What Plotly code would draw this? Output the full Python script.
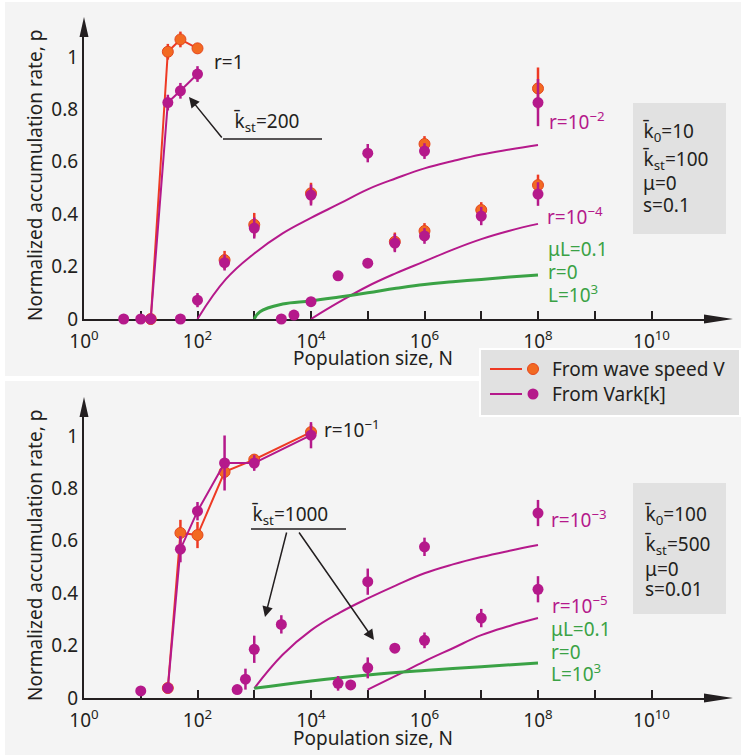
import plotly.graph_objects as go

W, H = 743, 756
FONT = "Noto Sans"
INK = "#231F20"
PURPLE = "#B5198B"
ORANGE = "#F26A22"
ORANGE_EDGE = "#E5471E"
RED = "#EE3A24"
GREEN = "#3AA245"
PANEL = "#F4F4F4"
BOX = "#E1E1E1"

# ---------------- upper panel data (k0=10, kst=100, s=0.1) ----------------
top_r1_zero_N = [5, 10]
top_r1_zero_p = [0, 0]

top_r1_N = [15, 30, 50, 100]
top_r1_wave = [0, 1.02, 1.067, 1.033]
top_r1_wave_err = [0, 0.03, 0.03, 0.02]
top_r1_var = [0, 0.826, 0.871, 0.935]
top_r1_var_err = [0, 0.03, 0.03, 0.03]

top_r2_wave_N = [300, 1000, 1e4, 1e6, 1e8]
top_r2_wave = [0.225, 0.36, 0.48, 0.668, 0.88]
top_r2_wave_err = [0.035, 0.045, 0.04, 0.03, 0.08]
top_r2_var_N = [50, 100, 300, 1000, 1e4, 1e5, 1e6, 1e8]
top_r2_var = [0, 0.072, 0.215, 0.347, 0.473, 0.633, 0.641, 0.826]
top_r2_var_err = [0, 0.027, 0.03, 0.04, 0.04, 0.035, 0.03, 0.09]

top_r4_wave_N = [3e5, 1e6, 1e7, 1e8]
top_r4_wave = [0.295, 0.336, 0.416, 0.511]
top_r4_wave_err = [0.035, 0.03, 0.03, 0.04]
top_r4_var_N = [3000, 5000, 1e4, 3e4, 1e5, 3e5, 1e6, 1e7, 1e8]
top_r4_var = [0, 0.015, 0.066, 0.165, 0.213, 0.29, 0.317, 0.393, 0.477]
top_r4_var_err = [0, 0, 0, 0, 0, 0.035, 0.03, 0.035, 0.045]

# theory curves, read at half-decade steps of N
top_th_r2_N = [1e2, 3.16e2, 1e3, 3.16e3, 1e4, 3.16e4, 1e5, 3.16e5, 1e6, 3.16e6, 1e7, 3.16e7, 1e8]
top_th_r2_p = [0, 0.152, 0.25, 0.327, 0.386, 0.44, 0.495, 0.537, 0.575, 0.603, 0.628, 0.647, 0.664]
top_th_r4_N = [1e4, 3.16e4, 1e5, 3.16e5, 1e6, 3.16e6, 1e7, 3.16e7, 1e8]
top_th_r4_p = [0, 0.065, 0.125, 0.175, 0.22, 0.265, 0.305, 0.337, 0.363]
top_th_r0_N = [1e3, 1.26e3, 3.16e3, 1e4, 3.16e4, 1e5, 3.16e5, 1e6, 3.16e6, 1e7, 3.16e7, 1e8]
top_th_r0_p = [0, 0.028, 0.057, 0.069, 0.084, 0.1, 0.117, 0.132, 0.142, 0.151, 0.16, 0.168]

# ---------------- lower panel data (k0=100, kst=500, s=0.01) ----------------
bot_small_N = [10]
bot_small_p = [0.027]
bot_small_err = [0.01]

bot_r1_N = [30, 50, 100, 300, 1000, 1e4]
bot_r1_wave = [0.038, 0.63, 0.622, 0.863, 0.91, 1.015]
bot_r1_wave_err = [0, 0.05, 0.05, 0.03, 0.02, 0.03]
bot_r1_var = [0.038, 0.568, 0.713, 0.897, 0.897, 1.003]
bot_r1_var_err = [0, 0.05, 0.035, 0.105, 0.03, 0.05]

bot_r3_N = [500, 700, 1000, 3000, 1e5, 1e6, 1e8]
bot_r3_var = [0.032, 0.072, 0.186, 0.281, 0.444, 0.577, 0.706]
bot_r3_var_err = [0, 0.04, 0.052, 0.035, 0.05, 0.035, 0.05]

bot_r5_N = [3e4, 5e4, 1e5, 3e5, 1e6, 1e7, 1e8]
bot_r5_var = [0.056, 0.05, 0.115, 0.19, 0.22, 0.305, 0.415]
bot_r5_var_err = [0.028, 0, 0.04, 0, 0.03, 0.035, 0.05]

bot_th_r3_N = [1e3, 3.16e3, 1e4, 3.16e4, 1e5, 3.16e5, 1e6, 3.16e6, 1e7, 3.16e7, 1e8]
bot_th_r3_p = [0.037, 0.165, 0.258, 0.325, 0.38, 0.43, 0.476, 0.51, 0.538, 0.562, 0.584]
bot_th_r5_N = [1e5, 3.16e5, 1e6, 3.16e6, 1e7, 3.16e7, 1e8]
bot_th_r5_p = [0.032, 0.085, 0.14, 0.19, 0.24, 0.275, 0.305]
bot_th_r0_N = [1e3, 1e4, 1e5, 1e6, 1e7, 1e8]
bot_th_r0_p = [0.037, 0.065, 0.088, 0.105, 0.119, 0.134]

x_major_vals = [10 ** k for k in range(0, 11, 2)]
x_major_text = ["10<sup>%d</sup>" % k for k in range(0, 11, 2)]
x_minor_vals = [10 ** k for k in range(1, 11, 2)]
y_tick_vals = [0, 0.2, 0.4, 0.6, 0.8, 1.0]
y_tick_text = ["0", "0.2", "0.4", "0.6", "0.8", "1"]


def px(x):
    return x / W


def py(y):
    return 1 - y / H


fig = go.Figure()


def theory(N, p, color, width, xa, ya):
    fig.add_trace(go.Scatter(
        x=N, y=p, mode="lines", xaxis=xa, yaxis=ya, showlegend=False,
        line=dict(color=color, width=width, shape="spline", smoothing=1.2),
        hoverinfo="skip"))


def points(N, p, err, kind, xa, ya, connect=False):
    if kind == "wave":
        mk = dict(color=ORANGE, size=11, line=dict(color=ORANGE_EDGE, width=1))
        ln = dict(color=RED, width=2)
        ecol = RED
    else:
        mk = dict(color=PURPLE, size=11, line=dict(width=0))
        ln = dict(color=PURPLE, width=2)
        ecol = PURPLE
    fig.add_trace(go.Scatter(
        x=N, y=p, mode="lines+markers" if connect else "markers",
        xaxis=xa, yaxis=ya, showlegend=False, cliponaxis=False,
        marker=mk, line=ln,
        error_y=dict(type="data", array=err, visible=True, color=ecol,
                     thickness=2.5, width=0)))


# upper panel traces
theory(top_th_r2_N, top_th_r2_p, PURPLE, 2, "x", "y")
theory(top_th_r4_N, top_th_r4_p, PURPLE, 2, "x", "y")
theory(top_th_r0_N, top_th_r0_p, GREEN, 3, "x", "y")
points(top_r1_N, top_r1_wave, top_r1_wave_err, "wave", "x", "y", connect=True)
points(top_r2_wave_N, top_r2_wave, top_r2_wave_err, "wave", "x", "y")
points(top_r4_wave_N, top_r4_wave, top_r4_wave_err, "wave", "x", "y")
points(top_r1_zero_N, top_r1_zero_p, [0, 0], "var", "x", "y")
points(top_r1_N, top_r1_var, top_r1_var_err, "var", "x", "y", connect=True)
points(top_r2_var_N, top_r2_var, top_r2_var_err, "var", "x", "y")
points(top_r4_var_N, top_r4_var, top_r4_var_err, "var", "x", "y")

# lower panel traces
theory(bot_th_r3_N, bot_th_r3_p, PURPLE, 2, "x2", "y2")
theory(bot_th_r5_N, bot_th_r5_p, PURPLE, 2, "x2", "y2")
theory(bot_th_r0_N, bot_th_r0_p, GREEN, 3, "x2", "y2")
points(bot_r1_N, bot_r1_wave, bot_r1_wave_err, "wave", "x2", "y2", connect=True)
points(bot_small_N, bot_small_p, bot_small_err, "var", "x2", "y2")
points(bot_r1_N, bot_r1_var, bot_r1_var_err, "var", "x2", "y2", connect=True)
points(bot_r3_N, bot_r3_var, bot_r3_var_err, "var", "x2", "y2")
points(bot_r5_N, bot_r5_var, bot_r5_var_err, "var", "x2", "y2")

# axes geometry (pixels): x=1 at 84 px, 56.75 px per decade, 262 px per unit of p
X0, DEC, X_END = 84, 56.75, 715
TOP_Y0, BOT_Y0, UNIT = 319, 698, 262
TOP_YEND, BOT_YEND = 30, 410

xcommon = dict(type="log", range=[0, (X_END - X0) / DEC], showgrid=False, zeroline=False,
               automargin=False,
               showline=True, linecolor=INK, linewidth=2, ticks="inside", ticklen=8,
               tickwidth=1.5, tickcolor=INK, tickmode="array", tickvals=x_major_vals,
               ticktext=x_major_text, tickfont=dict(family=FONT, size=19, color=INK),
               ticklabelstandoff=4,
               minor=dict(tickmode="array", tickvals=x_minor_vals, ticks="inside",
                          ticklen=8, tickwidth=1.5, tickcolor=INK, showgrid=False),
               layer="below traces", domain=[px(X0), px(X_END)])
ycommon = dict(showgrid=False, zeroline=False, showline=True, linecolor=INK, linewidth=2,
               automargin=False,
               ticks="", tickmode="array", tickvals=y_tick_vals, ticktext=y_tick_text,
               tickfont=dict(family=FONT, size=19, color=INK), layer="below traces")

shapes = [
    dict(type="rect", xref="paper", yref="paper", x0=px(5), x1=px(741), y0=py(376), y1=py(2),
         fillcolor=PANEL, line=dict(width=0), layer="below"),
    dict(type="rect", xref="paper", yref="paper", x0=px(5), x1=px(741), y0=py(755), y1=py(381),
         fillcolor=PANEL, line=dict(width=0), layer="below"),
    # parameter boxes
    dict(type="rect", xref="paper", yref="paper", x0=px(633), x1=px(726), y0=py(234), y1=py(103),
         fillcolor=BOX, line=dict(width=0), layer="below"),
    dict(type="rect", xref="paper", yref="paper", x0=px(633), x1=px(726), y0=py(614), y1=py(483),
         fillcolor=BOX, line=dict(width=0), layer="below"),
    # legend box
    dict(type="rect", xref="paper", yref="paper", x0=px(480), x1=px(740), y0=py(416), y1=py(349),
         fillcolor=BOX, line=dict(color="white", width=2), layer="above"),
    dict(type="line", xref="paper", yref="paper", x0=px(490), x1=px(522), y0=py(369), y1=py(369),
         line=dict(color=RED, width=2), layer="above"),
    dict(type="circle", xref="paper", yref="paper", x0=px(527.5), x1=px(538.5), y0=py(374.5),
         y1=py(363.5), fillcolor=ORANGE, line=dict(color=ORANGE_EDGE, width=1), layer="above"),
    dict(type="line", xref="paper", yref="paper", x0=px(490), x1=px(522), y0=py(394), y1=py(394),
         line=dict(color=PURPLE, width=2), layer="above"),
    dict(type="circle", xref="paper", yref="paper", x0=px(527.5), x1=px(538.5), y0=py(399.5),
         y1=py(388.5), fillcolor=PURPLE, line=dict(width=0), layer="above"),
    # leader lines under the kst labels
    dict(type="line", xref="paper", yref="paper", x0=px(223), x1=px(322), y0=py(139), y1=py(139),
         line=dict(color=INK, width=1.5)),
    dict(type="line", xref="paper", yref="paper", x0=px(251), x1=px(346), y0=py(529), y1=py(529),
         line=dict(color=INK, width=1.5)),
]

# arrowheads on the axes
for y0 in (TOP_Y0, BOT_Y0):
    shapes.append(dict(type="path", xref="paper", yref="paper",
                       path="M %f %f L %f %f L %f %f Z" % (px(704), py(y0 - 4.5), px(733), py(y0),
                                                        px(704), py(y0 + 4.5)),
                       fillcolor=INK, line=dict(width=0)))
for ytip in (17, 397):
    shapes.append(dict(type="path", xref="paper", yref="paper",
                       path="M %f %f L %f %f L %f %f Z" % (px(79.5), py(ytip + 20), px(84), py(ytip),
                                                        px(88.5), py(ytip + 20)),
                       fillcolor=INK, line=dict(width=0)))

annotations = []


def label(text, x, y, color=INK, xanchor="left", size=19, textangle=0):
    annotations.append(dict(text=text, x=px(x), y=py(y), xref="paper", yref="paper",
                            showarrow=False, xanchor=xanchor, yanchor="middle",
                            textangle=textangle,
                            font=dict(family=FONT, size=size, color=color)))


def arrow(tail, tip):
    annotations.append(dict(text="", x=px(tip[0]), y=py(tip[1]), xref="paper", yref="paper",
                            ax=tail[0] - tip[0], ay=tail[1] - tip[1], showarrow=True,
                            arrowhead=2, arrowsize=1.4, arrowwidth=1.5, arrowcolor=INK,
                            standoff=0, startstandoff=0))


KBAR = "k\u0304"

# upper panel labels
label("r=1", 212, 62)
label(KBAR + "<sub>st</sub>=200", 232, 122)
arrow((223, 139), (189, 97))
label("r=10<sup>\u22122</sup>", 547, 121, PURPLE)
label("r=10<sup>\u22124</sup>", 545, 216, PURPLE)
label("\u03bcL=0.1", 546, 249.5, GREEN)
label("r=0", 546, 271.5, GREEN)
label("L=10<sup>3</sup>", 546, 293.5, GREEN)
label(KBAR + "<sub>0</sub>=10", 641, 131.5)
label(KBAR + "<sub>st</sub>=100", 641, 160)
label("\u03bc=0", 641, 183.5)
label("s=0.1", 641, 205)
label("Population size, N", 373, 358, xanchor="center")
label("Normalized accumulation rate, p", 35, 176, xanchor="center", textangle=-90)

# lower panel labels
label("r=10<sup>\u22121</sup>", 322, 429)
label(KBAR + "<sub>st</sub>=1000", 250, 515)
arrow((287, 531), (265, 617))
arrow((298, 531), (374, 640))
label("r=10<sup>\u22123</sup>", 549, 519, PURPLE)
label("r=10<sup>\u22125</sup>", 550, 605, PURPLE)
label("\u03bcL=0.1", 549, 628.5, GREEN)
label("r=0", 549, 651.5, GREEN)
label("L=10<sup>3</sup>", 549, 673, GREEN)
label(KBAR + "<sub>0</sub>=100", 643, 515)
label(KBAR + "<sub>st</sub>=500", 643, 545)
label("\u03bc=0", 643, 568.5)
label("s=0.01", 643, 588.5)
label("Population size, N", 373, 738, xanchor="center")
label("Normalized accumulation rate, p", 35, 556, xanchor="center", textangle=-90)

# legend text
label("From wave speed V", 550, 369)
label("From Vark[k]", 550, 394)

fig.update_layout(
    width=W, height=H, margin=dict(l=0, r=0, t=0, b=0),
    paper_bgcolor="white", plot_bgcolor="rgba(0,0,0,0)",
    font=dict(family=FONT, size=19, color=INK),
    showlegend=False,
    xaxis=dict(xcommon, anchor="y"),
    yaxis=dict(ycommon, anchor="x", range=[0, (TOP_Y0 - TOP_YEND) / UNIT],
               domain=[py(TOP_Y0), py(TOP_YEND)]),
    xaxis2=dict(xcommon, anchor="y2"),
    yaxis2=dict(ycommon, anchor="x2", range=[0, (BOT_Y0 - BOT_YEND) / UNIT],
                domain=[py(BOT_Y0), py(BOT_YEND)]),
    shapes=shapes,
    annotations=annotations,
)

fig.write_html("out.html")
